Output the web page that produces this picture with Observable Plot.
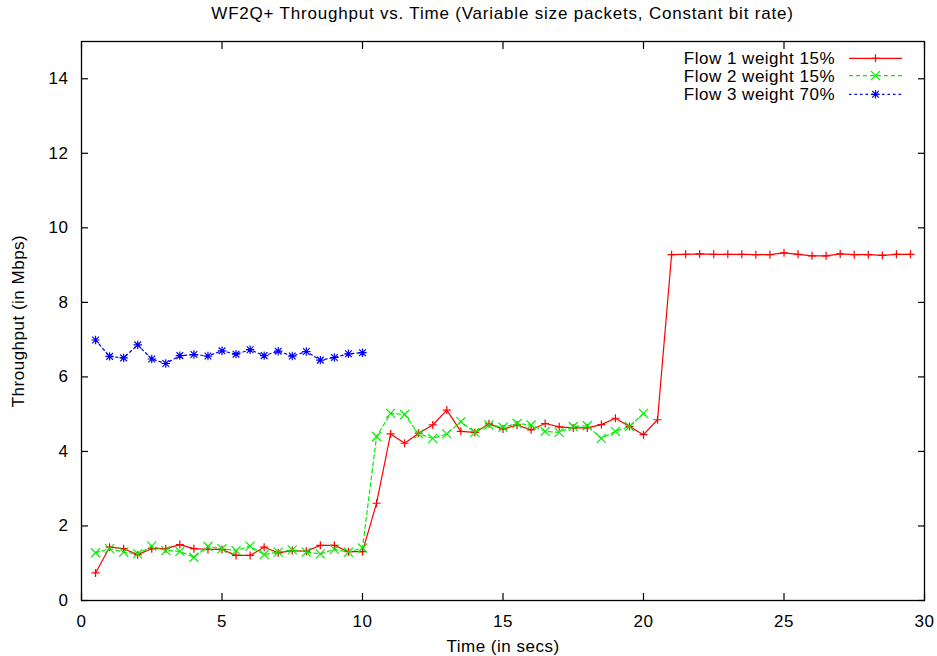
<!DOCTYPE html>
<html>
<head>
<meta charset="utf-8">
<script src="https://cdn.jsdelivr.net/npm/d3@7"></script>
<script src="https://cdn.jsdelivr.net/npm/@observablehq/plot@0.6"></script>
<style>
  html, body { margin: 0; padding: 0; background: #fff; }
  #title { box-sizing: border-box; height: 26px; width: 843px; margin-left: 81px; padding-top: 5px;
    font-family: "Liberation Sans", Arial, sans-serif; font-size: 17px; line-height: 17px;
    letter-spacing: 0.8px; text-align: center; color: #000; white-space: nowrap; }
  svg { display: block; }
</style>
</head>
<body>
<div id="title">WF2Q+ Throughput vs. Time (Variable size packets, Constant bit rate)</div>
<div id="chart"></div>
<script>
const seriesNames = ["Flow 1 weight 15%", "Flow 2 weight 15%", "Flow 3 weight 70%"];
const xTicks = [0, 5, 10, 15, 20, 25, 30];
const yTicks = [0, 2, 4, 6, 8, 10, 12, 14];
const xLabel = "Time (in secs)";
const yLabel = "Throughput (in Mbps)";

const time1 = [0.5,1,1.5,2,2.5,3,3.5,4,4.5,5,5.5,6,6.5,7,7.5,8,8.5,9,9.5,10,
  10.5,11,11.5,12,12.5,13,13.5,14,14.5,15,15.5,16,16.5,17,17.5,18,18.5,19,19.5,20,
  20.5,21,21.5,22,22.5,23,23.5,24,24.5,25,25.5,26,26.5,27,27.5,28,28.5,29,29.5];
const flow1 = [0.74,1.43,1.39,1.23,1.39,1.39,1.50,1.39,1.37,1.37,1.21,1.21,1.43,1.28,1.34,1.32,1.48,1.48,1.31,1.31,
  2.61,4.47,4.22,4.49,4.71,5.11,4.54,4.51,4.74,4.60,4.71,4.58,4.75,4.66,4.63,4.63,4.72,4.89,4.67,4.45,
  4.85,9.28,9.29,9.30,9.29,9.29,9.29,9.28,9.28,9.33,9.29,9.25,9.25,9.30,9.28,9.28,9.26,9.29,9.29];

const time2 = [0.5,1,1.5,2,2.5,3,3.5,4,4.5,5,5.5,6,6.5,7,7.5,8,8.5,9,9.5,10,
  10.5,11,11.5,12,12.5,13,13.5,14,14.5,15,15.5,16,16.5,17,17.5,18,18.5,19,19.5,20];
const flow2 = [1.28,1.39,1.30,1.25,1.46,1.34,1.32,1.16,1.45,1.39,1.34,1.46,1.23,1.30,1.36,1.30,1.25,1.37,1.30,1.41,
  4.40,5.02,4.99,4.47,4.35,4.47,4.80,4.51,4.71,4.65,4.75,4.71,4.54,4.51,4.67,4.69,4.35,4.54,4.67,5.02];

const time3 = [0.5,1,1.5,2,2.5,3,3.5,4,4.5,5,5.5,6,6.5,7,7.5,8,8.5,9,9.5,10];
const flow3 = [6.99,6.55,6.51,6.86,6.48,6.36,6.57,6.60,6.56,6.70,6.61,6.73,6.57,6.69,6.56,6.68,6.45,6.52,6.62,6.65];

const colors = ["#ff0000", "#00ee00", "#0000ff"];
const dashes = [null, "4,3", "2.5,3"];

const d1 = time1.map((t, i) => ({t, v: flow1[i]}));
const d2 = time2.map((t, i) => ({t, v: flow2[i]}));
const d3_ = time3.map((t, i) => ({t, v: flow3[i]}));

const symPlus = {draw(ctx, size) { const r = Math.sqrt(size / Math.PI);
  ctx.moveTo(-r, 0); ctx.lineTo(r, 0); ctx.moveTo(0, -r); ctx.lineTo(0, r); }};
const symCross = {draw(ctx, size) { const r = Math.sqrt(size / Math.PI);
  ctx.moveTo(-r, -r); ctx.lineTo(r, r); ctx.moveTo(-r, r); ctx.lineTo(r, -r); }};
const symStar = {draw(ctx, size) { const r = Math.sqrt(size / Math.PI); const q = r * 0.8;
  ctx.moveTo(-r, 0); ctx.lineTo(r, 0); ctx.moveTo(0, -r); ctx.lineTo(0, r);
  ctx.moveTo(-q, -q); ctx.lineTo(q, q); ctx.moveTo(-q, q); ctx.lineTo(q, -q); }};
const symbols = [symPlus, symCross, symStar];
const radii = [4, 4.5, 4.2];

const chart = Plot.plot({
  width: 937, height: 630,
  marginTop: 15, marginBottom: 56, marginLeft: 81, marginRight: 13,
  x: {domain: [0, 30]},
  y: {domain: [0, 15]},
  style: {fontFamily: "'Liberation Sans', Arial, sans-serif", fontSize: "17px", color: "#000",
          background: "#fff", letterSpacing: "0.5px"},
  marks: [
    Plot.axisX({ticks: xTicks, tickSize: -7, tickPadding: 21, label: null, anchor: "bottom", strokeWidth: 1.2}),
    Plot.axisX({ticks: xTicks, tickSize: -7, tickFormat: () => "", label: null, anchor: "top", strokeWidth: 1.2}),
    Plot.axisY({ticks: yTicks, tickSize: -7, tickPadding: 20, label: null, anchor: "left", strokeWidth: 1.2}),
    Plot.axisY({ticks: yTicks, tickSize: -7, tickFormat: () => "", label: null, anchor: "right", strokeWidth: 1.2}),
    Plot.line(d1, {x: "t", y: "v", stroke: colors[0], strokeWidth: 1.2}),
    Plot.dot(d1, {x: "t", y: "v", symbol: symbols[0], r: radii[0], stroke: colors[0], fill: "none", strokeWidth: 1.2}),
    Plot.line(d2, {x: "t", y: "v", stroke: colors[1], strokeWidth: 1.2, strokeDasharray: dashes[1]}),
    Plot.dot(d2, {x: "t", y: "v", symbol: symbols[1], r: radii[1], stroke: colors[1], fill: "none", strokeWidth: 1.2}),
    Plot.line(d3_, {x: "t", y: "v", stroke: colors[2], strokeWidth: 1.2, strokeDasharray: dashes[2]}),
    Plot.dot(d3_, {x: "t", y: "v", symbol: symbols[2], r: radii[2], stroke: colors[2], fill: "none", strokeWidth: 1.2}),
    Plot.frame({stroke: "#000", strokeWidth: 1.3}),
    Plot.text([xLabel], {frameAnchor: "bottom", dy: 51, lineAnchor: "bottom", textAnchor: "middle", fill: "#000"}),
    Plot.text([yLabel], {frameAnchor: "left", dx: -58, rotate: -90, lineAnchor: "bottom", textAnchor: "middle", fill: "#000"})
  ]
});
document.getElementById("chart").appendChild(chart);

// Legend (inside the top-right of the frame)
const svg = d3.select(chart);
const lg = svg.append("g").attr("font-family", "'Liberation Sans', Arial, sans-serif")
  .attr("font-size", 17).style("letter-spacing", "0.5px");
const rowY = [32.3, 49.7, 68.3];
seriesNames.forEach((name, i) => {
  const y = rowY[i];
  lg.append("text").attr("x", 835).attr("y", y + 6).attr("text-anchor", "end").attr("fill", "#000").text(name);
  lg.append("line").attr("x1", 849).attr("x2", 902).attr("y1", y).attr("y2", y)
    .attr("stroke", colors[i]).attr("stroke-width", 1.2)
    .attr("stroke-dasharray", dashes[i]);
  const p = d3.path();
  symbols[i].draw(p, Math.PI * radii[i] * radii[i]);
  lg.append("path").attr("d", p.toString()).attr("transform", `translate(875.5,${y})`)
    .attr("stroke", colors[i]).attr("stroke-width", 1.2).attr("fill", "none");
});
</script>
</body>
</html>
